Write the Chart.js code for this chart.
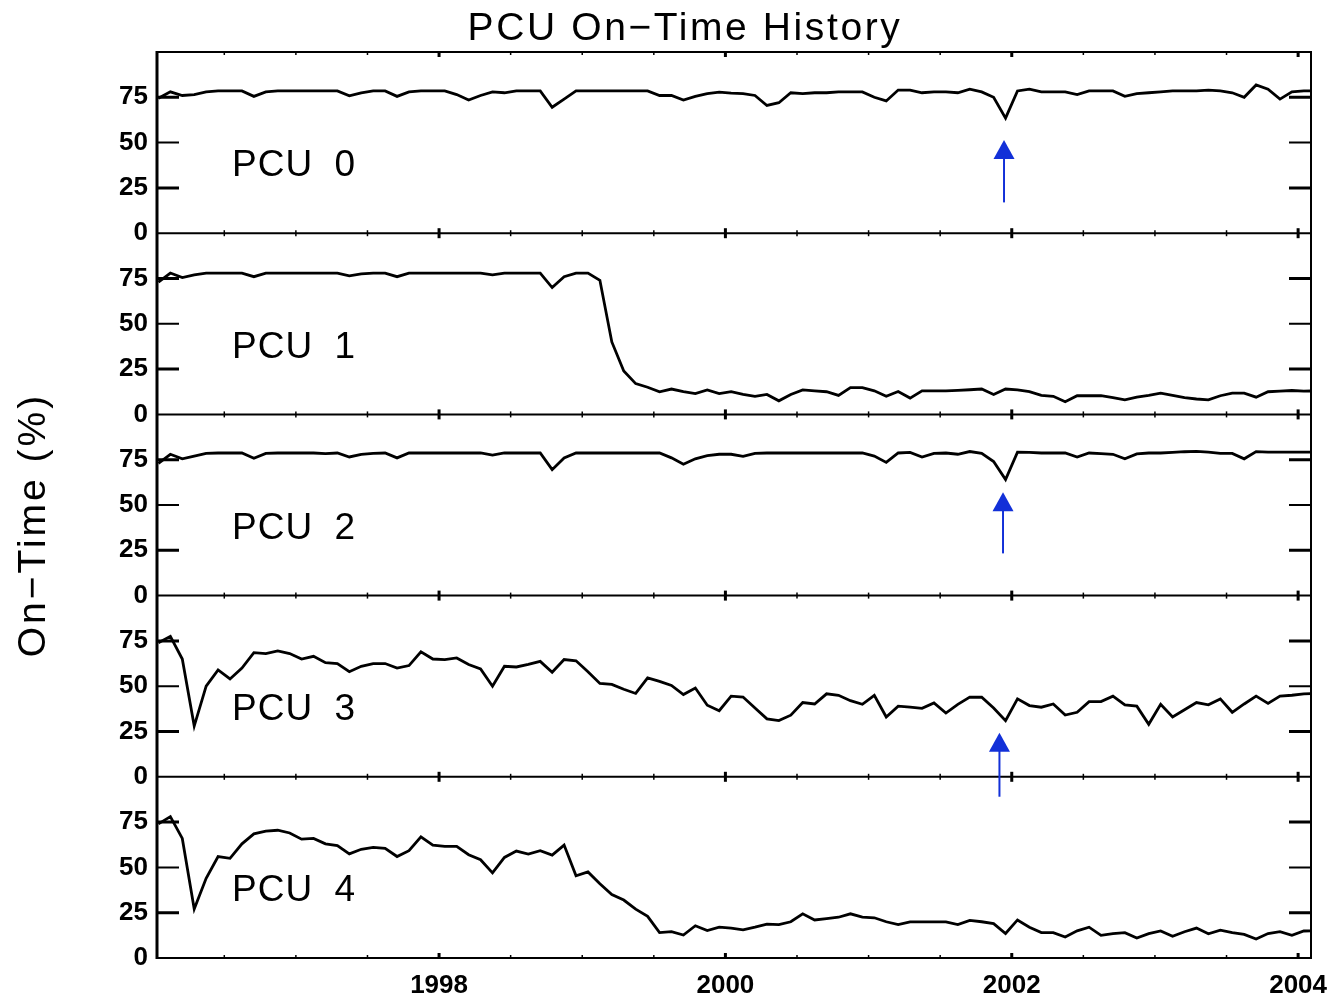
<!DOCTYPE html>
<html>
<head>
<meta charset="utf-8">
<title>PCU On-Time History</title>
<script src="https://cdn.jsdelivr.net/npm/chart.js@4.4.1/dist/chart.umd.min.js"></script>
<style>
  html, body { margin: 0; padding: 0; background: #fff; }
  #wrap { width: 1331px; height: 1000px; }
</style>
</head>
<body>
<div id="wrap"><canvas id="pcuChart" width="1331" height="1000"></canvas></div>
<script>
// ---------------- DATA ----------------
const pcuNames = ["PCU 0", "PCU 1", "PCU 2", "PCU 3", "PCU 4"];
const yearTicks = [1998, 2000, 2002, 2004];
const percentTicks = [0, 25, 50, 75];

const pcu0 = [74.5, 78, 76, 76.5, 78, 78.5, 78.5, 78.5, 75.5, 78,
  78.5, 78.5, 78.5, 78.5, 78.5, 78.5, 75.8, 77.5, 78.5, 78.5,
  75.5, 78, 78.5, 78.5, 78.5, 76.5, 73.5, 76, 78, 77.5,
  78.5, 78.5, 78.5, 69.5, 74, 78.5, 78.5, 78.5, 78.5, 78.5,
  78.5, 78.5, 76, 76, 73.5, 75.5, 77, 77.8, 77.3, 77,
  76, 70.5, 72, 77.5, 77, 77.5, 77.5, 78, 78, 78,
  75, 73, 79, 79, 77.5, 78, 78, 77.5, 79.5, 78,
  75, 63.5, 78.5, 79.5, 78, 78, 78, 76.5, 78.5, 78.5,
  78.5, 75.5, 77, 77.5, 78, 78.5, 78.5, 78.5, 79, 78.5,
  77.5, 75, 81.8, 79.5, 74, 78, 78.5, 78.5];

const pcu1 = [73, 78, 75.5, 77, 78, 78, 78, 78, 76, 78,
  78, 78, 78, 78, 78, 78, 76.5, 77.5, 78, 78,
  76, 78, 78, 78, 78, 78, 78, 78, 77, 78,
  78, 78, 78, 70, 76, 78, 78, 74, 40, 24,
  17, 15, 12.5, 14, 12.6, 11.5, 13.5, 11.5, 12.6, 11,
  10, 11, 7.5, 11, 13.5, 13, 12.5, 10.5, 14.8, 14.8,
  13, 10, 12.6, 9, 13, 13, 13, 13.3, 13.6, 14,
  11, 14, 13.5, 12.6, 10.5, 10, 7, 10.3, 10.3, 10.3,
  9.3, 8, 9.5, 10.5, 11.7, 10.5, 9.3, 8.5, 8, 10.3,
  11.7, 11.7, 9.5, 12.5, 12.8, 13.2, 12.8, 13];

const pcu2 = [73, 78, 75.5, 77, 78.5, 78.7, 78.7, 78.7, 75.8, 78.5,
  78.7, 78.7, 78.7, 78.7, 78.3, 78.7, 76.5, 78, 78.5, 78.7,
  76, 78.7, 78.7, 78.7, 78.7, 78.7, 78.7, 78.7, 77.5, 78.7,
  78.7, 78.7, 78.7, 69.5, 76, 78.7, 78.7, 78.7, 78.7, 78.7,
  78.7, 78.7, 78.7, 76, 72.5, 75.5, 77.2, 78, 78, 76.8,
  78.5, 78.7, 78.7, 78.7, 78.7, 78.7, 78.7, 78.7, 78.7, 78.7,
  77, 73.5, 78.7, 79, 76.5, 78.5, 78.7, 78, 79.5, 78.5,
  74, 64, 79.2, 79, 78.7, 78.7, 78.7, 76.5, 78.7, 78.4,
  78, 75.5, 78.2, 78.7, 78.7, 79, 79.4, 79.6, 79.2, 78.5,
  78.5, 75.5, 79.5, 79.2, 79.2, 79.2, 79.2, 79.2];

const pcu3 = [74, 77.5, 65, 28, 50, 59, 54, 60, 68.5, 68,
  69.5, 68, 65, 66.5, 63, 62.5, 58, 61, 62.5, 62.5,
  60, 61.4, 69, 65, 64.7, 65.6, 62, 59.5, 50, 61,
  60.6, 62, 63.7, 57.7, 64.7, 64, 58, 51.5, 51, 48.3,
  46, 54.6, 52.7, 50.4, 45.4, 49, 39.5, 36.5, 44.5, 44,
  38, 32, 31, 34, 41, 40.2, 45.8, 45, 42, 40,
  45, 33, 39, 38.5, 37.8, 40.8, 35.2, 40, 44, 43.9,
  38, 31, 43, 39.3, 38.4, 40.2, 34.1, 35.6, 41.5, 41.5,
  44.5, 39.7, 39, 29, 40, 33, 37, 41, 39.7, 43,
  35.6, 40.2, 44.5, 40.5, 44.5, 45, 45.8, 46];

const pcu4 = [74, 78, 66, 27, 44, 56, 55, 63, 68.5, 70,
  70.5, 69, 65.6, 66, 63, 62, 57.5, 60, 61, 60.5,
  56, 59.2, 66.9, 62.3, 61.6, 61.6, 57, 54.2, 47, 55.5,
  59, 57.4, 59.2, 56.8, 62.3, 45.4, 47.5, 41, 35, 32,
  27, 23, 14, 14.5, 12.7, 17.8, 15.1, 17, 16.5, 15.5,
  17, 18.7, 18.4, 20, 24.4, 21, 21.7, 22.5, 24.4, 22.6,
  22.2, 20, 18.4, 19.9, 19.9, 19.9, 19.9, 18.4, 20.8, 20,
  19, 13.5, 21, 17, 14, 14, 11.6, 15, 17, 12.5,
  13.5, 14, 11, 13.4, 14.9, 12, 14.5, 16.5, 13.4, 15.4,
  14, 13, 10.5, 13.5, 14.5, 12.5, 14.9, 15];

// one sample per month, starting early January 1996
const months = pcu0.map((_, i) => 1996.04 + i / 12);

const pcuSeries = [pcu0, pcu1, pcu2, pcu3, pcu4];
const panelIds = ["pcu0", "pcu1", "pcu2", "pcu3", "pcu4"];

// blue arrows pointing at the late-2001 dip (x in years, tip/tail in % of the panel)
const arrowMarks = [
  { panel: 0, x: 2001.946, tip: 51.5, tail: 17 },
  { panel: 2, x: 2001.939, tip: 57, tail: 23.3 },
  { panel: 3, x: 2001.914, tip: 24.3, tail: -11 }
];

// ---------------- FRAME / TEXT PLUGIN ----------------
const pcuFrame = {
  id: "pcuFrame",
  afterDatasetsDraw(chart) {
    const { ctx, chartArea: area, scales } = chart;
    const xs = scales.x;
    const L = area.left, R = area.right;
    ctx.save();
    ctx.strokeStyle = "#000";
    ctx.lineCap = "butt";

    panelIds.forEach((id, k) => {
      const s = scales[id];
      // horizontal borders
      ctx.lineWidth = 2;
      ctx.beginPath();
      if (k === 0) { ctx.moveTo(L, s.top); ctx.lineTo(R, s.top); }
      ctx.moveTo(L, s.bottom); ctx.lineTo(R, s.bottom);
      ctx.stroke();

      // y ticks on both sides, pointing inward
      [25, 50, 75].forEach(v => {
        const py = s.getPixelForValue(v);
        ctx.lineWidth = v === 50 ? 2 : 3;
        ctx.beginPath();
        ctx.moveTo(L, py); ctx.lineTo(L + 22, py);
        ctx.moveTo(R - 22, py); ctx.lineTo(R, py);
        ctx.stroke();
      });
    });

    // x ticks every half year on every panel edge
    const edges = [scales.pcu0.top].concat(panelIds.map(id => scales[id].bottom));
    for (let t = 1996; t <= 2004.5; t += 0.5) {
      if (t < xs.min || t > xs.max) continue;
      const px = xs.getPixelForValue(t);
      const major = t % 2 === 0;
      const len = major ? 5 : 3;
      ctx.lineWidth = major ? 3 : 1.5;
      edges.forEach((ey, j) => {
        const up = j === 0 ? 0 : len;
        const down = j === edges.length - 1 ? 0 : len;
        ctx.beginPath();
        ctx.moveTo(px, ey - up);
        ctx.lineTo(px, ey + down);
        ctx.stroke();
      });
    }

    // side borders
    ctx.lineWidth = 3;
    ctx.beginPath();
    ctx.moveTo(L, area.top - 1); ctx.lineTo(L, area.bottom + 1);
    ctx.stroke();
    ctx.lineWidth = 2;
    ctx.beginPath();
    ctx.moveTo(R, area.top - 1); ctx.lineTo(R, area.bottom + 1);
    ctx.stroke();

    // panel names
    ctx.fillStyle = "#000";
    ctx.font = '37px "Liberation Sans", Arial, sans-serif';
    ctx.textAlign = "left";
    ctx.textBaseline = "middle";
    if ("wordSpacing" in ctx) ctx.wordSpacing = "10px";
    if ("letterSpacing" in ctx) ctx.letterSpacing = "1px";
    panelIds.forEach((id, k) => {
      ctx.fillText(pcuNames[k], L + 75, scales[id].getPixelForValue(37));
    });
    if ("wordSpacing" in ctx) ctx.wordSpacing = "0px";

    // arrows
    ctx.strokeStyle = "#1230d8";
    ctx.fillStyle = "#1230d8";
    arrowMarks.forEach(a => {
      const s = scales[panelIds[a.panel]];
      const px = xs.getPixelForValue(a.x);
      const tipY = s.getPixelForValue(a.tip);
      const tailY = s.getPixelForValue(a.tail);
      const headH = 19, headW = 10.5;
      ctx.lineWidth = 2;
      ctx.beginPath();
      ctx.moveTo(px, tipY + headH - 1);
      ctx.lineTo(px, tailY);
      ctx.stroke();
      ctx.beginPath();
      ctx.moveTo(px, tipY);
      ctx.lineTo(px - headW, tipY + headH);
      ctx.lineTo(px + headW, tipY + headH);
      ctx.closePath();
      ctx.fill();
    });

    // title and y title
    ctx.fillStyle = "#000";
    ctx.font = '39px "Liberation Sans", Arial, sans-serif';
    ctx.textAlign = "center";
    ctx.textBaseline = "middle";
    if ("letterSpacing" in ctx) ctx.letterSpacing = "2.6px";
    ctx.fillText("PCU On\u2212Time History", 685, 29);

    if ("letterSpacing" in ctx) ctx.letterSpacing = "3px";
    ctx.translate(34, 525);
    ctx.rotate(-Math.PI / 2);
    ctx.fillText("On\u2212Time (%)", 0, 0);
    ctx.restore();
  }
};

// ---------------- SCALES ----------------
const tickFont = { family: '"Liberation Sans", Arial, sans-serif', size: 26, weight: "bold" };

const scales = {
  x: {
    type: "linear",
    position: "bottom",
    min: 1996.03,
    max: 2004.09,
    grid: { display: false, drawTicks: false },
    border: { display: false },
    afterBuildTicks: s => { s.ticks = yearTicks.map(v => ({ value: v })); },
    afterFit: s => {
      s.height = 42;
      s.paddingLeft = 0;
      s.paddingRight = 0;
    },
    ticks: { color: "#000", font: tickFont, padding: 12, maxRotation: 0, autoSkip: false, callback: v => String(v) }
  }
};

// stacked axes on the left are laid out in reverse order, so add the bottom panel first
panelIds.slice().reverse().forEach(id => {
  scales[id] = {
    type: "linear",
    position: "left",
    stack: "pcu",
    stackWeight: 1,
    min: 0,
    max: 100,
    grid: { display: false, drawTicks: false },
    border: { display: false },
    afterBuildTicks: s => { s.ticks = percentTicks.map(v => ({ value: v })); },
    afterFit: s => {
      s.width = 157;
      s.paddingTop = 0;
      s.paddingBottom = 0;
    },
    ticks: { color: "#000", font: tickFont, padding: 9, autoSkip: false, callback: v => String(v) }
  };
});

// ---------------- CHART ----------------
const ctx = document.getElementById("pcuChart").getContext("2d");
new Chart(ctx, {
  type: "line",
  data: {
    datasets: pcuSeries.map((vals, k) => ({
      label: pcuNames[k],
      data: months.map((m, i) => ({ x: m, y: vals[i] })),
      yAxisID: panelIds[k],
      borderColor: "#000",
      borderWidth: 2.8,
      pointRadius: 0,
      tension: 0,
      fill: false
    }))
  },
  options: {
    responsive: false,
    animation: false,
    devicePixelRatio: 1,
    layout: { padding: { top: 52, right: 20, bottom: 0, left: 0 } },
    plugins: {
      legend: { display: false },
      title: { display: false },
      tooltip: { enabled: false }
    },
    scales: scales
  },
  plugins: [pcuFrame]
});
</script>
</body>
</html>
